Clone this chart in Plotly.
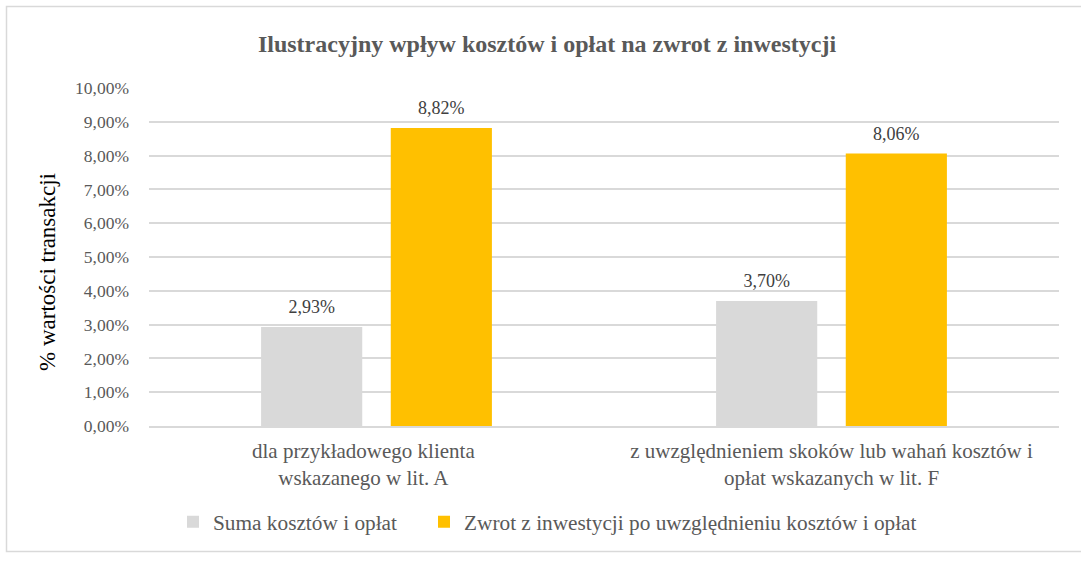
import plotly.graph_objects as go

categories = ["dla przykładowego klienta&nbsp;&nbsp;&nbsp;&nbsp;&nbsp;<br>wskazanego w lit. A&nbsp;&nbsp;&nbsp;&nbsp;&nbsp;",
              "z uwzględnieniem skoków lub wahań kosztów i<br>opłat wskazanych w lit. F"]
series_names = ["Suma kosztów i opłat",
                "Zwrot z inwestycji po uwzględnieniu kosztów i opłat"]
suma_kosztow = [2.93, 3.70]
zwrot = [8.82, 8.06]
tick_vals = [0, 1, 2, 3, 4, 5, 6, 7, 8, 9, 10]
tick_text = ["0,00%", "1,00%", "2,00%", "3,00%", "4,00%", "5,00%",
             "6,00%", "7,00%", "8,00%", "9,00%", "10,00%"]
y_title = "% wartości transakcji"
chart_title = "Ilustracyjny wpływ kosztów i opłat na zwrot z inwestycji"

FONT = "Liberation Serif, Times New Roman, serif"

L, R, T, B = 149, 22, 88, 135
W, H = 1081, 561
PW, PH = W - L - R, H - T - B

# large non-breaking spaces pad the label box so it sits a little higher above the bar
pad = "<span style='font-size:50px'>&nbsp;</span>"
label_tpl = pad + "%{y:.2f}%" + pad

fig = go.Figure()
fig.add_trace(go.Bar(x=categories, y=suma_kosztow, name=series_names[0],
                     marker=dict(color="#D9D9D9", line=dict(width=0)),
                     texttemplate=label_tpl, textposition="outside",
                     textfont=dict(family=FONT, size=18, color="#404040"),
                     cliponaxis=False, legend="legend", showlegend=True))
fig.add_trace(go.Bar(x=categories, y=zwrot, name=series_names[1],
                     marker=dict(color="#FFC000", line=dict(width=0)),
                     texttemplate=label_tpl, textposition="outside",
                     textfont=dict(family=FONT, size=18, color="#404040"),
                     cliponaxis=False, legend="legend2", showlegend=True))

legend_common = dict(orientation="h", xanchor="left",
                     y=(426 - 522) / PH, yanchor="middle",
                     font=dict(family=FONT, size=21.3, color="#595959"),
                     itemwidth=30, bgcolor="rgba(0,0,0,0)", visible=True)

fig.update_layout(
    width=W, height=H,
    showlegend=True,
    separators=", ",
    paper_bgcolor="white", plot_bgcolor="white",
    margin=dict(l=L, r=R, t=T, b=B),
    barmode="group", bargap=0.43, bargroupgap=0.22,
    font=dict(family=FONT, color="#595959", size=18),
    title=dict(text="<b>" + chart_title + "</b>",
               font=dict(family=FONT, size=24, color="#595959"),
               x=547 / W, xref="container", xanchor="center",
               y=1 - 44 / H, yref="container", yanchor="middle"),
    legend=dict(x=(173 - L) / PW, **legend_common),
    legend2=dict(x=(424 - L) / PW, **legend_common),
    xaxis=dict(showline=True, linecolor="#D9D9D9", linewidth=1.5, ticks="",
               ticklabelstandoff=5,
               tickfont=dict(family=FONT, size=21, color="#595959")),
    yaxis=dict(range=[0, 10], tickvals=tick_vals, ticktext=tick_text,
               showgrid=True, gridcolor="#D9D9D9", gridwidth=1.5,
               zeroline=False, showline=False, ticks="", ticklabelstandoff=19,
               tickfont=dict(family=FONT, size=17.5, color="#595959")),
    annotations=[dict(text=y_title, textangle=-90, showarrow=False,
                      xref="paper", yref="paper",
                      x=(47 - L) / PW, y=(426 - 272) / PH,
                      xanchor="center", yanchor="middle",
                      font=dict(family=FONT, size=23, color="#000000"))],
    shapes=[dict(type="rect", xref="paper", yref="paper",
                 x0=(6.5 - L) / PW, x1=(1300 - L) / PW,
                 y0=(426 - 551.5) / PH, y1=(426 - 6.5) / PH,
                 line=dict(color="#D9D9D9", width=1.5), fillcolor="rgba(0,0,0,0)",
                 layer="below")],
)

fig.write_html("out.html", config={"displayModeBar": False},
               post_script="document.body.style.margin='0';document.body.style.padding='0';")
